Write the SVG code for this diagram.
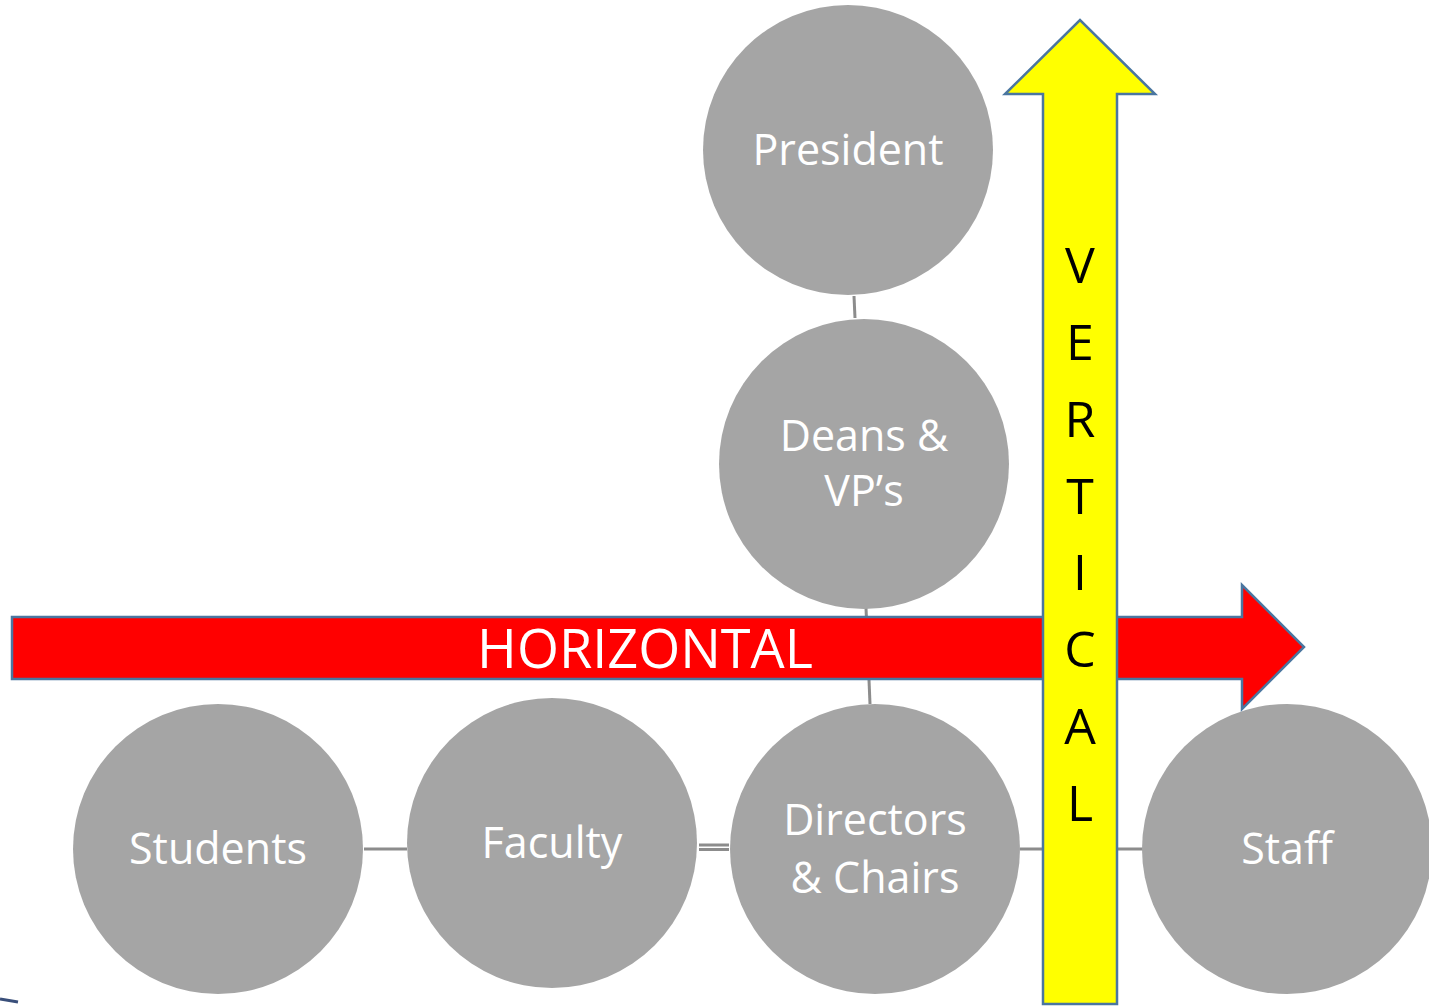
<svg xmlns="http://www.w3.org/2000/svg" width="1429" height="1007" viewBox="0 0 1429 1007">
<style>
.node{fill:#A5A5A5}
.lbl{fill:#FFFFFF;font-family:"Open Sans","Noto Sans","DejaVu Sans",sans-serif;font-size:43px;text-anchor:middle}
.conn{stroke:#8C8C8C;stroke-width:3;fill:none}
.arrow{stroke:#4A76A0;stroke-width:2.5;stroke-linejoin:miter}
.vt{fill:#000000;font-family:"Open Sans","Noto Sans","DejaVu Sans",sans-serif;font-size:50px;text-anchor:middle}
</style>
<rect width="1429" height="1007" fill="#FFFFFF"/>
<g id="connectors">
<line class="conn" x1="854" y1="296" x2="855" y2="318"/>
<line class="conn" x1="866" y1="608" x2="870" y2="704"/>
<line class="conn" x1="364" y1="849" x2="407" y2="849"/>
<line class="conn" x1="699" y1="845" x2="729" y2="845"/>
<line class="conn" x1="699" y1="849.5" x2="729" y2="849.5"/>
<line class="conn" x1="1020" y1="849" x2="1143" y2="849"/>
</g>
<g id="president"><circle class="node" cx="848" cy="150" r="145"/><text class="lbl" x="848" y="165">President</text></g>
<g id="deans"><circle class="node" cx="864" cy="464" r="145"/><text class="lbl" x="864" y="451">Deans &amp;</text><text class="lbl" x="864" y="506">VP’s</text></g>
<g id="students"><circle class="node" cx="218" cy="849" r="145"/><text class="lbl" x="218" y="864">Students</text></g>
<g id="faculty"><circle class="node" cx="552" cy="843" r="145"/><text class="lbl" x="552" y="858">Faculty</text></g>
<g id="directors"><circle class="node" cx="875" cy="849" r="145"/><text class="lbl" x="875" y="835">Directors</text><text class="lbl" x="875" y="893">&amp; Chairs</text></g>
<g id="staff"><circle class="node" cx="1287" cy="849" r="145"/><text class="lbl" x="1287" y="864">Staff</text></g>
<g id="horizontal">
<polygon class="arrow" fill="#FF0000" points="12,617 1242,617 1242,585 1304,647 1242,709 1242,679 12,679"/>
<text x="645" y="668" fill="#FFFFFF" font-family="'Open Sans','Noto Sans','DejaVu Sans',sans-serif" font-size="54" text-anchor="middle">HORIZONTAL</text>
</g>
<g id="vertical">
<polygon class="arrow" fill="#FFFF00" points="1043,1004 1043,94 1005,94 1080,20 1155,94 1117,94 1117,1004"/>
<text class="vt" x="1080" y="283">V</text>
<text class="vt" x="1080" y="360">E</text>
<text class="vt" x="1080" y="437">R</text>
<text class="vt" x="1080" y="514">T</text>
<text class="vt" x="1080" y="590">I</text>
<text class="vt" x="1080" y="667">C</text>
<text class="vt" x="1080" y="744">A</text>
<text class="vt" x="1080" y="821">L</text>
</g>
<line x1="0" y1="999" x2="18" y2="1002" stroke="#3A4F7A" stroke-width="3"/>
</svg>
